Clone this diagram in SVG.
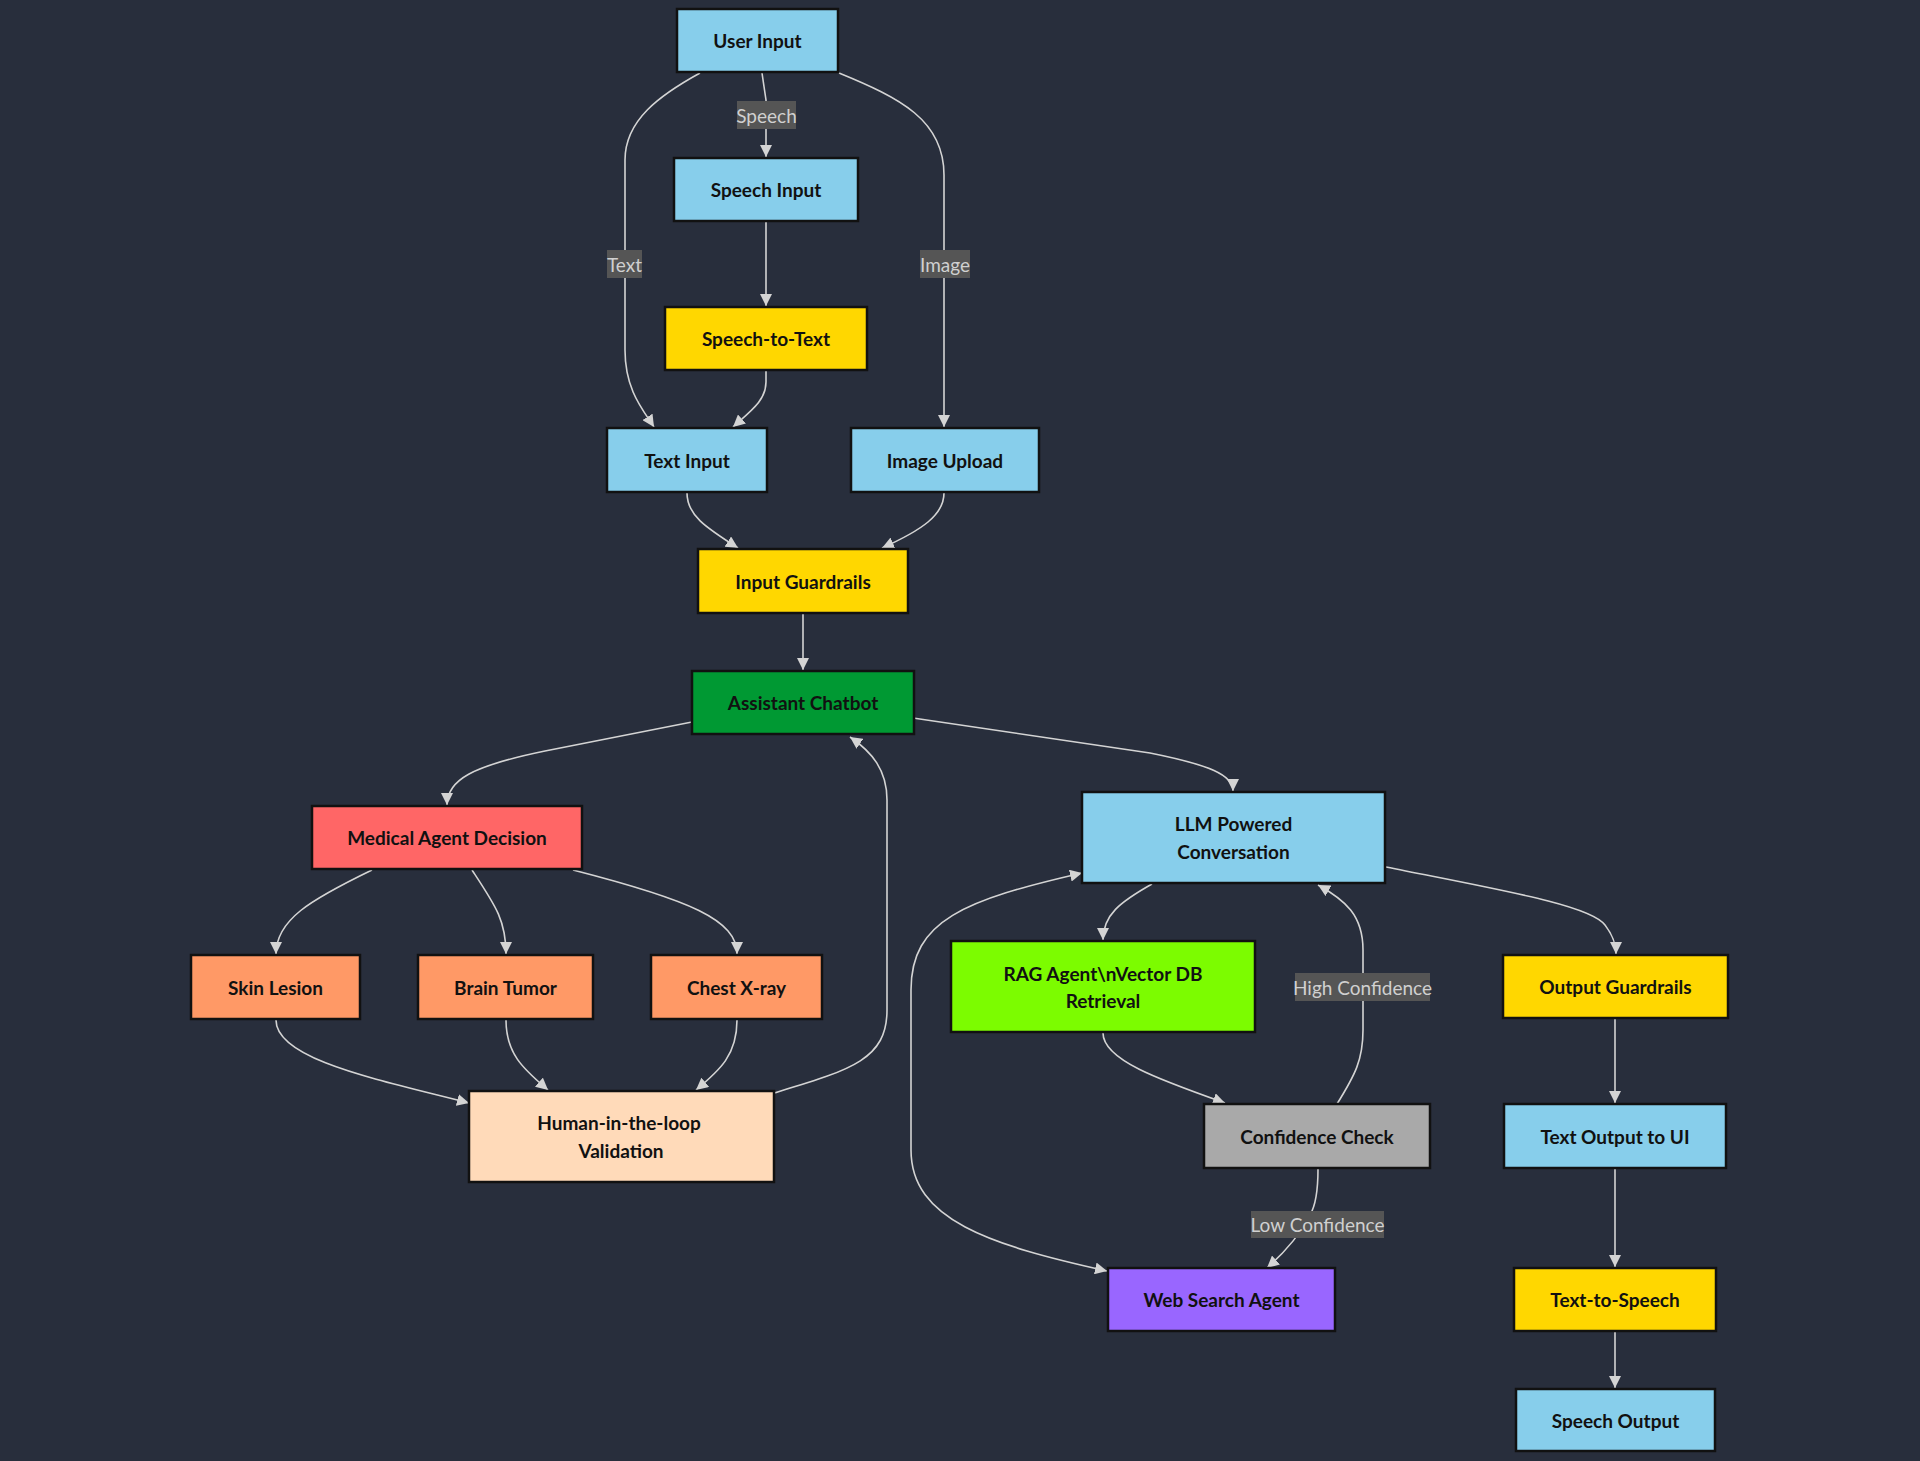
<svg xmlns="http://www.w3.org/2000/svg" width="1920" height="1461" viewBox="0 0 1920 1461">
<style>
.bg{fill:#282e3c}
.n rect{stroke:#111;stroke-width:2.5}
.n text{font-family:"Trebuchet MS","Lato","Liberation Sans",sans-serif;font-weight:bold;font-size:19px;fill:#111;text-anchor:middle;dominant-baseline:central}
.blue{fill:#87CEEB}.gold{fill:#FFD700}.green{fill:#009933}.red{fill:#FF6666}.orange{fill:#FF9966}.peach{fill:#FFDAB9}.lime{fill:#7CFC00}.gray{fill:#A9A9A9}.purple{fill:#9966FF}
.e path{fill:none;stroke:#d4d4d4;stroke-width:1.6;marker-end:url(#arr)}
.lbl rect{fill:#555}
.lbl text{font-family:"Trebuchet MS","Lato","Liberation Sans",sans-serif;font-size:19px;fill:#d0d0d0;text-anchor:middle;dominant-baseline:central}
</style>
<defs>
<marker id="arr" viewBox="0 0 10 10" refX="10" refY="5" markerWidth="12" markerHeight="12" markerUnits="userSpaceOnUse" orient="auto-start-reverse">
<path d="M0,0 L10,5 L0,10 z" fill="#d4d4d4"/>
</marker>
</defs>
<rect class="bg" x="0" y="0" width="1920" height="1461"/>
<g id="connectors" class="e">
<path d="M700,73 C660,95 625,120 625,160 L625,350 C625,390 643,410 654,427"/>
<path d="M762,73 L766,100 L766,157"/>
<path d="M839,73 C900,98 944,120 944,175 L944,427"/>
<path d="M766,222 L766,306"/>
<path d="M766,371 L766,382 C766,400 752,410 733,427"/>
<path d="M687,493 C687,515 705,527 738,548"/>
<path d="M944,493 C944,515 922,530 882,548"/>
<path d="M803,614 L803,670"/>
<path d="M692,722 L545,751 C472,766 447,780 447,805"/>
<path d="M913,718 L1150,753 C1210,765 1233,775 1233,791"/>
<path d="M372,870 C310,900 276,920 276,954"/>
<path d="M472,870 C495,905 506,920 506,954"/>
<path d="M573,870 C690,900 737,920 737,954"/>
<path d="M276,1020 C276,1060 380,1080 469,1103"/>
<path d="M506,1020 C506,1055 525,1070 548,1090"/>
<path d="M737,1020 C737,1055 720,1070 696,1090"/>
<path d="M774,1093 C850,1070 887,1060 887,1010 L887,800 C887,770 872,752 850,737"/>
<path d="M1152,884 C1120,902 1103,915 1103,940"/>
<path d="M1082,873 C965,900 911,920 911,990 L911,1150 C911,1220 990,1245 1107,1271" style="marker-start:url(#arr)"/>
<path d="M1103,1033 C1103,1060 1160,1080 1225,1103"/>
<path d="M1337,1104 C1355,1075 1363,1060 1363,1030 L1363,950 C1363,915 1345,900 1318,885"/>
<path d="M1318,1169 C1318,1190 1316,1205 1310,1215 C1300,1235 1285,1252 1267,1268"/>
<path d="M1386,867 C1500,890 1590,905 1605,925 C1614,937 1616,945 1616,954"/>
<path d="M1615,1019 L1615,1103"/>
<path d="M1615,1169 L1615,1267"/>
<path d="M1615,1332 L1615,1388"/>
</g>
<g id="edge-labels" class="lbl">
<g><rect x="737" y="101" width="59" height="28"/><text x="766.5" y="115">Speech</text></g>
<g><rect x="607" y="250" width="35" height="28"/><text x="624.5" y="264">Text</text></g>
<g><rect x="920" y="250" width="50" height="28"/><text x="945" y="264">Image</text></g>
<g><rect x="1295" y="973" width="135" height="28"/><text x="1362.5" y="987">High Confidence</text></g>
<g><rect x="1251" y="1211" width="133" height="27"/><text x="1317.5" y="1224.5">Low Confidence</text></g>
</g>
<g id="userInput" class="n"><rect class="blue" x="677" y="9" width="161" height="63"/><text x="757.5" y="40.5">User Input</text></g>
<g id="speechInput" class="n"><rect class="blue" x="674" y="158" width="184" height="63"/><text x="766" y="189.5">Speech Input</text></g>
<g id="speechToText" class="n"><rect class="gold" x="665" y="307" width="202" height="63"/><text x="766" y="338.5">Speech-to-Text</text></g>
<g id="textInput" class="n"><rect class="blue" x="607" y="428" width="160" height="64"/><text x="687" y="460">Text Input</text></g>
<g id="imageUpload" class="n"><rect class="blue" x="851" y="428" width="188" height="64"/><text x="945" y="460">Image Upload</text></g>
<g id="inputGuardrails" class="n"><rect class="gold" x="698" y="549" width="210" height="64"/><text x="803" y="581">Input Guardrails</text></g>
<g id="assistantChatbot" class="n"><rect class="green" x="692" y="671" width="222" height="63"/><text x="803" y="702.5">Assistant Chatbot</text></g>
<g id="medicalAgent" class="n"><rect class="red" x="312" y="806" width="270" height="63"/><text x="447" y="837.5">Medical Agent Decision</text></g>
<g id="llmConversation" class="n"><rect class="blue" x="1082" y="792" width="303" height="91"/><text x="1233.5" y="823">LLM Powered</text><text x="1233.5" y="851">Conversation</text></g>
<g id="skinLesion" class="n"><rect class="orange" x="191" y="955" width="169" height="64"/><text x="275.5" y="987">Skin Lesion</text></g>
<g id="brainTumor" class="n"><rect class="orange" x="418" y="955" width="175" height="64"/><text x="505.5" y="987">Brain Tumor</text></g>
<g id="chestXray" class="n"><rect class="orange" x="651" y="955" width="171" height="64"/><text x="736.5" y="987">Chest X-ray</text></g>
<g id="ragAgent" class="n"><rect class="lime" x="951" y="941" width="304" height="91"/><text x="1103" y="973">RAG Agent\nVector DB</text><text x="1103" y="1000">Retrieval</text></g>
<g id="outputGuardrails" class="n"><rect class="gold" x="1503" y="955" width="225" height="63"/><text x="1615.5" y="986.5">Output Guardrails</text></g>
<g id="humanValidation" class="n"><rect class="peach" x="469" y="1091" width="305" height="91"/><text x="619" y="1122">Human-in-the-loop</text><text x="621" y="1150">Validation</text></g>
<g id="confidenceCheck" class="n"><rect class="gray" x="1204" y="1104" width="226" height="64"/><text x="1317" y="1136">Confidence Check</text></g>
<g id="textOutput" class="n"><rect class="blue" x="1504" y="1104" width="222" height="64"/><text x="1615" y="1136">Text Output to UI</text></g>
<g id="webSearch" class="n"><rect class="purple" x="1108" y="1268" width="227" height="63"/><text x="1221.5" y="1299.5">Web Search Agent</text></g>
<g id="textToSpeech" class="n"><rect class="gold" x="1514" y="1268" width="202" height="63"/><text x="1615" y="1299.5">Text-to-Speech</text></g>
<g id="speechOutput" class="n"><rect class="blue" x="1516" y="1389" width="199" height="62"/><text x="1615.5" y="1420">Speech Output</text></g>
</svg>
